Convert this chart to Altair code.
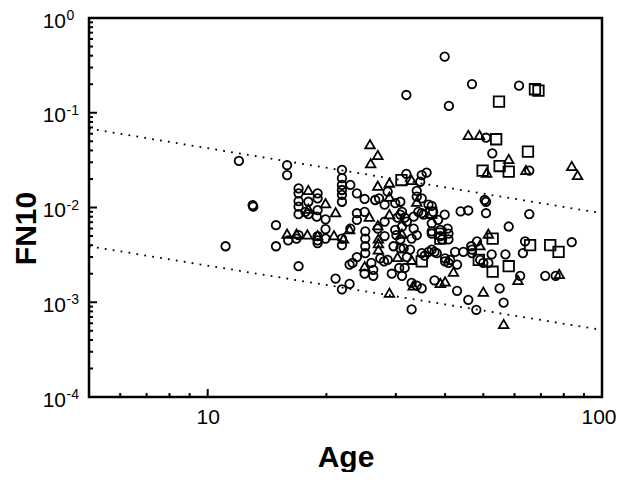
import altair as alt
import pandas as pd

# ---- data (Age, FN10) ----
circle_points = [
    (11.1, 0.0039), (12.0, 0.031), (13.0, 0.0106), (13.05, 0.0102), (14.9, 0.0065), (14.9, 0.0039),
    (15.9, 0.028), (15.9, 0.022), (16.0, 0.0045), (17.0, 0.0024),
    (17.0, 0.0159), (17.0, 0.0141), (17.0, 0.0117), (17.0, 0.0102), (17.0, 0.0085), (17.0, 0.0051), (16.8, 0.0047),
    (17.7, 0.0090), (18.0, 0.0115), (18.0, 0.0085),
    (19.0, 0.0141), (19.0, 0.0125), (19.0, 0.0094), (18.9, 0.0080), (19.0, 0.0050), (19.0, 0.0045), (19.0, 0.0042),
    (19.9, 0.0075), (19.9, 0.0059), (19.9, 0.0047), (21.1, 0.00178),
    (21.9, 0.0249), (21.9, 0.0204), (21.9, 0.0173), (21.9, 0.0153), (21.9, 0.0136), (21.9, 0.0115),
    (21.9, 0.0047), (21.9, 0.0040), (21.9, 0.00137),
    (23.0, 0.0173), (23.0, 0.0060), (22.9, 0.0025), (22.9, 0.00156),
    (23.9, 0.0141), (23.9, 0.0087), (23.9, 0.0074), (23.9, 0.0030), (23.3, 0.0026),
    (25.0, 0.0123), (25.0, 0.0090), (25.1, 0.0056), (25.1, 0.0047), (25.1, 0.0039), (25.1, 0.0033), (25.0, 0.0020),
    (26.0, 0.0026), (26.3, 0.0022), (26.3, 0.0019),
    (26.6, 0.0120), (27.2, 0.0125), (27.4, 0.0029), (28.1, 0.0107), (28.6, 0.0147), (28.6, 0.0028), (28.0, 0.0027),
    (27.0, 0.0060), (28.1, 0.0071), (28.1, 0.0050),
    (29.6, 0.0039), (29.3, 0.0020), (29.9, 0.0111), (29.9, 0.0058), (30.1, 0.0051), (30.3, 0.0078),
    (30.8, 0.0115), (30.8, 0.0084), (30.8, 0.0046), (30.8, 0.0037), (30.6, 0.0023),
    (31.1, 0.0090), (31.1, 0.0063), (31.1, 0.0019), (31.4, 0.0037), (31.6, 0.0078), (31.6, 0.0023),
    (31.9, 0.154), (31.9, 0.0226), (32.0, 0.0071), (32.0, 0.0030), (32.6, 0.0036), (32.9, 0.0047),
    (32.9, 0.0016), (32.9, 0.00084),
    (33.3, 0.0080), (33.3, 0.0060), (33.9, 0.0150), (33.9, 0.0130), (33.9, 0.0051), (33.9, 0.0015),
    (34.6, 0.0187), (34.9, 0.022), (34.9, 0.0125), (34.9, 0.0087), (34.9, 0.0033), (34.9, 0.0014),
    (34.2, 0.0090), (35.3, 0.0084), (35.5, 0.0031),
    (35.9, 0.0233), (36.3, 0.0107), (36.3, 0.0034),
    (37.0, 0.0104), (37.3, 0.0090), (37.0, 0.0068), (37.0, 0.0056), (37.0, 0.0053), (37.0, 0.0036),
    (37.6, 0.0034), (37.6, 0.0017), (38.1, 0.0033),
    (38.4, 0.0074), (38.9, 0.0058), (38.9, 0.0050), (39.3, 0.0046),
    (39.9, 0.391), (39.9, 0.0084), (40.0, 0.0027), (40.0, 0.0029), (40.6, 0.0060), (40.8, 0.0053),
    (40.8, 0.0046), (40.8, 0.0026), (40.9, 0.118), (41.2, 0.0028),
    (42.4, 0.0034), (42.9, 0.0025), (42.9, 0.00132),
    (43.8, 0.0091), (44.5, 0.0034), (45.8, 0.0093), (45.8, 0.00106), (46.6, 0.0039), (46.8, 0.201),
    (46.8, 0.0036), (46.8, 0.0033),
    (48.0, 0.00083), (48.2, 0.0044), (49.1, 0.0028), (50.0, 0.0026), (50.4, 0.0120), (50.8, 0.0545),
    (50.8, 0.0115), (50.8, 0.0087), (51.5, 0.0026), (52.5, 0.0032), (52.7, 0.0373),
    (55.0, 0.0014), (56.3, 0.00099), (56.9, 0.0032), (58.0, 0.0063), (61.6, 0.193), (62.0, 0.0019),
    (63.0, 0.0033), (63.8, 0.0044), (65.4, 0.0245), (65.4, 0.0085), (71.8, 0.0019), (76.3, 0.0019),
    (83.8, 0.0043),
]

triangle_points = [
    (25.8, 0.0465), (27.0, 0.0358), (25.9, 0.0293),
    (45.8, 0.0582), (48.9, 0.0582), (58.0, 0.0325), (51.0, 0.0233), (64.1, 0.0249), (83.8, 0.0274), (86.7, 0.0220),
    (32.9, 0.0195), (28.9, 0.0183), (27.0, 0.0170),
    (18.0, 0.0153), (28.9, 0.0130), (33.9, 0.0115), (19.9, 0.0111), (18.0, 0.0097), (21.1, 0.0089),
    (28.9, 0.0085), (25.7, 0.0080), (27.0, 0.0065), (22.9, 0.0059),
    (15.9, 0.0053), (16.8, 0.0053), (17.9, 0.0052), (19.0, 0.0051), (20.9, 0.0051), (22.1, 0.0047),
    (27.1, 0.0047), (27.1, 0.0042), (27.1, 0.0036), (31.1, 0.0053), (32.9, 0.0028), (30.3, 0.0030), (25.0, 0.0024),
    (42.0, 0.0021), (38.9, 0.0016), (40.0, 0.00166), (33.2, 0.0015), (28.9, 0.00126), (50.0, 0.00129),
    (56.3, 0.00059), (61.2, 0.00172), (77.9, 0.00199), (51.5, 0.0053), (49.0, 0.0040),
]

square_points = [
    (67.6, 0.177), (69.0, 0.171), (54.8, 0.131), (53.9, 0.0525), (64.9, 0.0388), (55.0, 0.0274),
    (49.8, 0.0245), (58.0, 0.0239), (31.0, 0.0195), (36.9, 0.0088), (38.9, 0.0053), (38.9, 0.0047),
    (34.9, 0.0027), (48.7, 0.0028), (52.8, 0.0047), (52.8, 0.0021), (58.0, 0.0024), (65.7, 0.0040),
    (73.9, 0.0040), (77.6, 0.0034),
]

# dotted guide lines (values at Age 5 and 100)
line_age = [5, 100]
upper_fn10 = [0.068, 0.0087]
lower_fn10 = [0.0039, 0.00051]

# axis ticks / labels
x_label_values = [10, 100]
y_label_values = [0.0001, 0.001, 0.01, 0.1, 1]
y_label_exponents = ["-4", "-3", "-2", "-1", "0"]
x_major = [10]
x_minor = [6, 7, 8, 9, 20, 30, 40, 50, 60, 70, 80, 90]
y_major = [0.1, 0.01, 0.001]
y_minor = [m * 10.0 ** e for e in (-4, -3, -2, -1) for m in range(2, 10)]

W, H = 513, 379
FONT = "Liberation Sans"

rows = []
for kind, pts in (("circle", circle_points), ("triangle", triangle_points), ("square", square_points)):
    for a, f in pts:
        rows.append({"Age": a, "FN10": f, "kind": kind})
pts_df = pd.DataFrame(rows)

line_rows = []
for name, ys in (("upper", upper_fn10), ("lower", lower_fn10)):
    for a, f in zip(line_age, ys):
        line_rows.append({"Age": a, "FN10": f, "line": name})
line_df = pd.DataFrame(line_rows)

ylab_df = pd.DataFrame({"FN10": y_label_values, "exp": y_label_exponents})

xscale = alt.Scale(type="log", domain=[5, 100], nice=False)
yscale = alt.Scale(type="log", domain=[0.0001, 1], nice=False)

xaxis = alt.Axis(
    values=x_label_values, format="d", title="Age",
    labelFont=FONT, labelFontSize=21, labelColor="black", labelPadding=9,
    labelFlush=True, labelFlushOffset=14,
    labelBaseline="top",
    titleFont=FONT, titleFontSize=30, titleFontWeight="bold", titleColor="black",
    titleY=69, titleBaseline="alphabetic",
    ticks=False, tickSize=0, domain=False, grid=False,
)
yaxis = alt.Axis(
    values=y_label_values, title="FN10", labels=False,
    titleFont=FONT, titleFontSize=30, titleFontWeight="bold", titleColor="black",
    titleX=-54, titleY=210, titleBaseline="alphabetic", titleAngle=-90,
    ticks=False, tickSize=0, domain=False, grid=False,
)

X = alt.X("Age:Q", scale=xscale, axis=xaxis)
Y = alt.Y("FN10:Q", scale=yscale, axis=yaxis)

lines = alt.Chart(line_df).mark_line(
    color="black", strokeWidth=1.8, strokeDash=[1.8, 6.2], strokeCap="butt"
).encode(x=X, y=Y, detail="line:N")

points = alt.Chart(pts_df).mark_point(
    filled=False, color="black", strokeWidth=1.8, opacity=1
).encode(
    x=X, y=Y,
    shape=alt.Shape("kind:N", scale=alt.Scale(domain=["circle", "triangle", "square"],
                                              range=["circle", "triangle-up", "square"]), legend=None),
    size=alt.Size("kind:O", scale=alt.Scale(domain=["circle", "triangle", "square"],
                                            range=[72, 110, 58]), legend=None),
)

def xticks(vals, length):
    return alt.Chart(pd.DataFrame({"Age": vals})).mark_rule(color="black", strokeWidth=2).encode(
        x=X, y=alt.value(H), y2=alt.value(H - length),
    )

def yticks(vals, length):
    return alt.Chart(pd.DataFrame({"FN10": vals})).mark_rule(color="black", strokeWidth=2).encode(
        y=Y, x=alt.value(0), x2=alt.value(length),
    )

# y tick labels: "10" with a raised exponent
ylab_base = alt.Chart(ylab_df).mark_text(
    text="10", align="right", baseline="alphabetic", font=FONT, fontSize=21, color="black", dy=9.5
).encode(y=Y, x=alt.value(-23))
ylab_exp = alt.Chart(ylab_df).mark_text(
    align="left", baseline="alphabetic", font=FONT, fontSize=14, color="black", dy=2
).encode(y=Y, x=alt.value(-22.5), text="exp:N")

chart = alt.layer(
    lines, points,
    xticks(x_major, 8), xticks(x_minor, 4),
    yticks(y_major, 8), yticks(y_minor, 4),
    ylab_base, ylab_exp,
).properties(
    width=W, height=H,
    background="white",
    padding={"left": 81, "top": 10, "right": 14, "bottom": 75},
    autosize=alt.AutoSizeParams(type="none"),
).configure_view(
    stroke="black", strokeWidth=2.5
)

chart.save("out.html", embed_options={"renderer": "svg", "actions": False})
